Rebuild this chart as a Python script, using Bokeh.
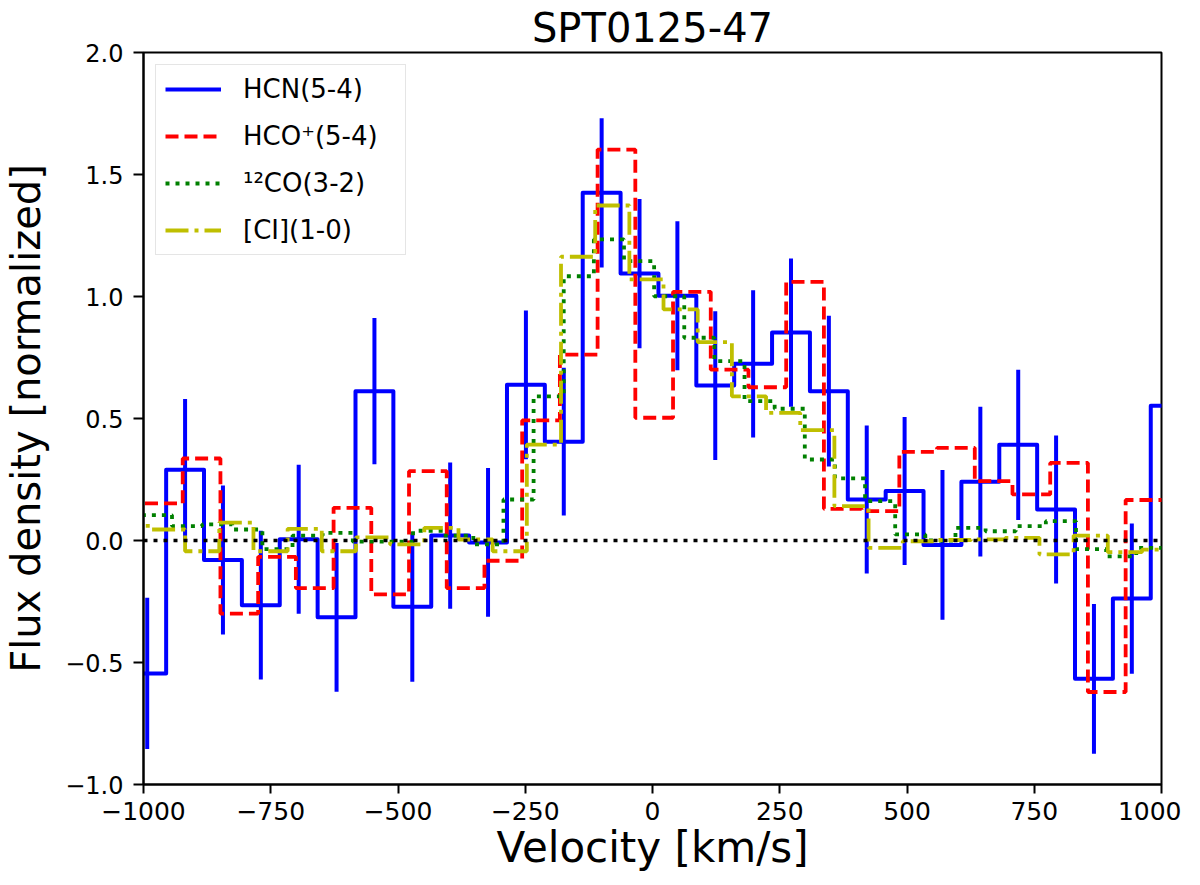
from bokeh.plotting import figure
from bokeh.models import FixedTicker, CustomJSTickFormatter, Span
from bokeh.embed import file_html
from bokeh.resources import INLINE

# channel velocities (km/s) and normalized flux densities
hcn_v = [-992.7, -918.3, -843.9, -769.5, -695.1, -620.7, -546.3, -471.9, -397.5, -323.1,
         -248.7, -174.3, -99.9, -25.5, 48.9, 123.3, 197.7, 272.1, 346.5, 420.9,
         495.3, 569.7, 644.1, 718.5, 792.9, 867.3, 941.7, 1016.1]
hcn_flux = [-0.545, 0.29, -0.08, -0.265, 0.005, -0.315, 0.612, -0.272, 0.02, -0.008,
            0.638, 0.405, 1.425, 1.094, 1.003, 0.635, 0.724, 0.852, 0.612, 0.168,
            0.203, -0.018, 0.241, 0.392, 0.127, -0.567, -0.238, 0.552]
hcn_err = [0.31, 0.29, 0.305, 0.305, 0.305, 0.305, 0.30, 0.307, 0.30, 0.305,
           0.305, 0.303, 0.306, 0.306, 0.305, 0.305, 0.302, 0.304, 0.309, 0.303,
           0.303, 0.307, 0.307, 0.308, 0.303, 0.307, 0.308, 0.305]

hco_v = [-960.0, -885.9, -811.8, -737.7, -663.6, -589.5, -515.4, -441.3, -367.2, -293.1,
         -219.0, -144.9, -70.8, 3.3, 77.4, 151.5, 225.6, 299.7, 373.8, 447.9,
         522.0, 596.1, 670.2, 744.3, 818.4, 892.5, 966.6]
hco_flux = [0.152, 0.336, -0.30, -0.067, -0.195, 0.134, -0.221, 0.284, -0.195, -0.083,
            0.492, 0.762, 1.602, 0.503, 1.019, 0.70, 0.628, 1.060, 0.13, 0.12,
            0.363, 0.38, 0.243, 0.189, 0.318, -0.621, 0.166]

co_v = [-973.6, -914.4, -855.2, -796.0, -736.8, -677.6, -618.4, -559.2, -500.0, -440.8,
        -381.6, -322.4, -263.2, -204.0, -144.8, -85.6, -26.4, 32.8, 92.0, 151.2,
        210.4, 269.6, 328.8, 388.0, 447.2, 506.4, 565.6, 624.8, 684.0, 743.2,
        802.4, 861.6, 920.8, 980.0]
co_flux = [0.104, 0.059, 0.066, 0.045, -0.035, 0.02, 0.031, -0.005, -0.005, 0.04,
           0.02, -0.016, 0.168, 0.591, 1.083, 1.234, 1.145, 1.001, 0.831, 0.735,
           0.571, 0.54, 0.332, 0.255, 0.161, 0.025, 0.0, 0.052, 0.038, 0.059,
           0.079, -0.035, -0.065, -0.03]

ci_v = [-1019.0, -951.9, -884.7, -817.6, -750.4, -683.3, -616.2, -549.0, -481.9, -414.7,
        -347.6, -280.5, -213.3, -146.2, -79.0, -11.9, 55.2, 122.4, 189.5, 256.7,
        323.8, 390.9, 458.1, 525.2, 592.4, 659.5, 726.6, 793.8, 860.9, 928.1, 995.2]
ci_flux = [0.06, 0.045, -0.044, 0.073, -0.044, 0.048, -0.044, 0.013, -0.016, 0.052,
           0.004, -0.044, 0.393, 1.163, 1.373, 1.07, 0.947, 0.813, 0.591, 0.523,
           0.452, 0.141, -0.03, -0.003, 0.002, 0.005, 0.011, -0.057, 0.02, -0.048, -0.037]

x_ticks = [-1000, -750, -500, -250, 0, 250, 500, 750, 1000]
y_ticks = [-1.0, -0.5, 0.0, 0.5, 1.0, 1.5, 2.0]

FONT = "DejaVu Sans"


def steps(centers, vals):
    # full-width bins around each channel centre (like steps-mid, but the end bins are whole)
    edges = [centers[0] - (centers[1] - centers[0]) / 2]
    for i in range(len(centers) - 1):
        edges.append((centers[i] + centers[i + 1]) / 2)
    edges.append(centers[-1] + (centers[-1] - centers[-2]) / 2)
    xs, ys = [], []
    for i, v in enumerate(vals):
        xs += [edges[i], edges[i + 1]]
        ys += [v, v]
    return xs, ys


p = figure(frame_width=1018, frame_height=732, x_range=(-1000, 1000), y_range=(-1.0, 2.0),
           output_backend="svg", toolbar_location=None, title="SPT0125-47",
           min_border_left=142, min_border_right=20, min_border_top=45, min_border_bottom=10)

p.grid.visible = False
p.outline_line_color = "black"
p.outline_line_width = 2
p.background_fill_color = "white"
p.border_fill_color = "white"

p.title.text_font = FONT
p.title.text_font_size = "40px"
p.title.text_font_style = "normal"
p.title.text_color = "black"
p.title.align = "center"
p.title.standoff = 4

# HCN with error bars
lo = [f - e for f, e in zip(hcn_flux, hcn_err)]
hi = [f + e for f, e in zip(hcn_flux, hcn_err)]
p.segment(x0=hcn_v, y0=lo, x1=hcn_v, y1=hi, line_color="#0000ff", line_width=4)
sx, sy = steps(hcn_v, hcn_flux)
p.line(sx, sy, line_color="#0000ff", line_width=4, line_join="round", legend_label="HCN(5-4)")

sx, sy = steps(hco_v, hco_flux)
p.line(sx, sy, line_color="#ff0000", line_width=3.8, line_dash="13 6", legend_label="HCO⁺(5-4)")

sx, sy = steps(co_v, co_flux)
p.line(sx, sy, line_color="#008000", line_width=3.8, line_dash="4 6", legend_label="¹²CO(3-2)")

sx, sy = steps(ci_v, ci_flux)
p.line(sx, sy, line_color="#bfbf00", line_width=3.8, line_dash="23 6 4 6", legend_label="[CI](1-0)")

zero = Span(location=0, dimension="width", line_color="black", line_width=3.6, line_dash="4 6")
p.add_layout(zero)

fmt_x = CustomJSTickFormatter(code="return (tick < 0 ? '−' : '') + Math.abs(tick).toFixed(0);")
fmt_y = CustomJSTickFormatter(code="return (tick < 0 ? '−' : '') + Math.abs(tick).toFixed(1);")

p.xaxis.ticker = FixedTicker(ticks=x_ticks)
p.xaxis.formatter = fmt_x
p.yaxis.ticker = FixedTicker(ticks=y_ticks)
p.yaxis.formatter = fmt_y

p.xaxis.axis_label = "Velocity [km/s]"
p.yaxis.axis_label = "Flux density [normalized]"

for ax in (p.xaxis[0], p.yaxis[0]):
    ax.axis_line_color = "black"
    ax.axis_line_width = 2
    ax.major_tick_line_color = "black"
    ax.major_tick_line_width = 2
    ax.major_tick_in = 0
    ax.minor_tick_in = 0
    ax.minor_tick_out = 0
    ax.major_label_text_font = FONT
    ax.major_label_text_color = "black"
    ax.axis_label_text_font = FONT
    ax.axis_label_text_font_style = "normal"
    ax.axis_label_text_color = "black"

p.xaxis.major_tick_out = 9
p.xaxis.major_label_text_font_size = "25px"
p.xaxis.major_label_standoff = 8
p.xaxis.axis_label_standoff = 0
p.xaxis.axis_label_text_font_size = "42px"

p.yaxis.major_tick_out = 10
p.yaxis.major_label_text_font_size = "24px"
p.yaxis.major_label_standoff = 10
p.yaxis.axis_label_standoff = 13
p.yaxis.axis_label_text_font_size = "40px"

leg = p.legend[0]
leg.location = "top_left"
leg.margin = 12
leg.padding = 9
leg.spacing = 17
leg.glyph_width = 56
leg.glyph_height = 30
leg.label_height = 30
leg.label_width = 153
leg.label_standoff = 22
leg.label_text_font = FONT
leg.label_text_font_size = "26px"
leg.label_text_color = "black"
leg.border_line_color = "#cccccc"
leg.border_line_width = 1.5
leg.background_fill_alpha = 0.8

open("out.html", "w").write(file_html(p, INLINE))
